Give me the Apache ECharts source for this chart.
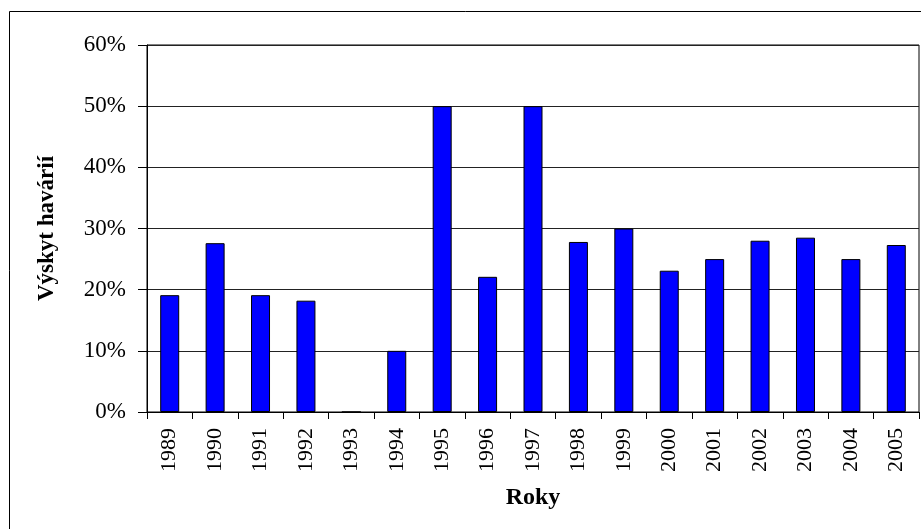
<!DOCTYPE html>
<html>
<head>
<meta charset="utf-8">
<script src="https://cdn.jsdelivr.net/npm/echarts@6/dist/echarts.min.js"></script>
<style>
  html, body { margin: 0; padding: 0; background: #fff; overflow: hidden; }
  #chart { width: 921px; height: 529px; }
</style>
</head>
<body>
<div id="chart"></div>
<script>
// roky a výskyt havárií (%)
var years = ['1989', '1990', '1991', '1992', '1993', '1994', '1995', '1996', '1997',
             '1998', '1999', '2000', '2001', '2002', '2003', '2004', '2005'];
var vyskyt = [19.1, 27.6, 19.1, 18.2, 0, 10, 50, 22.1, 50,
              27.8, 30, 23.1, 25, 28, 28.5, 25, 27.3];
var yTicks = [0, 10, 20, 30, 40, 50, 60];

var serif = "'Liberation Serif', 'Times New Roman', serif";

var myChart = echarts.init(document.getElementById('chart'));

var option = {
  animation: false,
  backgroundColor: '#fff',
  graphic: [{
    type: 'rect',
    shape: { x: 9.5, y: 11.5, width: 1000, height: 1000 },
    style: { fill: 'none', stroke: '#000', lineWidth: 1 },
    silent: true
  }],
  grid: {
    left: 147, top: 45, right: 2, bottom: 117,
    show: true, borderColor: '#000', borderWidth: 1
  },
  xAxis: {
    type: 'category',
    data: years,
    name: 'Roky',
    nameLocation: 'middle',
    nameGap: 74,
    nameTextStyle: { fontFamily: serif, fontSize: 24, fontWeight: 'bold', color: '#000' },
    axisLine: { lineStyle: { color: '#000', width: 1 } },
    axisTick: { show: true, length: 7, lineStyle: { color: '#000' } },
    axisLabel: { rotate: 90, margin: 16, fontFamily: serif, fontSize: 22, color: '#000' }
  },
  yAxis: {
    type: 'value',
    min: yTicks[0],
    max: yTicks[yTicks.length - 1],
    interval: 10,
    name: 'Výskyt havárií',
    nameLocation: 'middle',
    nameRotate: 90,
    nameGap: 88,
    nameTextStyle: { fontFamily: serif, fontSize: 23, fontWeight: 'bold', color: '#000' },
    axisLine: { show: true, lineStyle: { color: '#000', width: 1 } },
    axisTick: { show: true, length: 9, lineStyle: { color: '#000' } },
    axisLabel: { formatter: '{value}%', margin: 21, fontFamily: serif, fontSize: 23, color: '#000' },
    splitLine: { show: true, lineStyle: { color: '#222', width: 1 } }
  },
  series: [{
    type: 'bar',
    data: vyskyt,
    barWidth: 19,
    itemStyle: { color: '#0000ff', borderColor: '#000', borderWidth: 1 }
  }]
};

myChart.setOption(option);
</script>
</body>
</html>
